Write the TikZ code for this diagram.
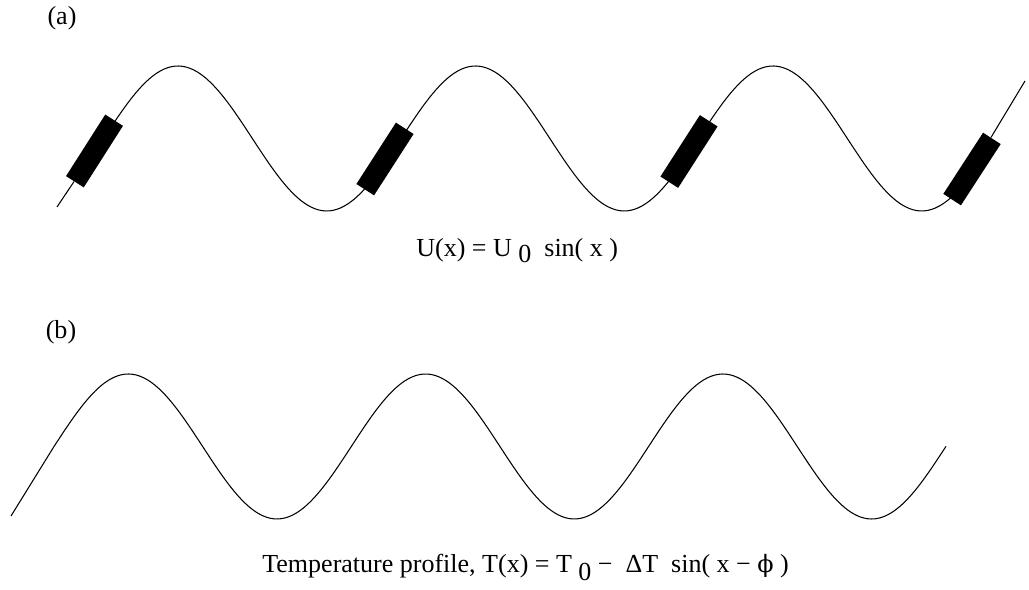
\documentclass[tikz,border=0pt]{standalone}
\usepackage{fontspec}
\setmainfont{Liberation Serif}
\newfontfamily\greekfont[Scale=0.92]{DejaVu Serif}
\usetikzlibrary{positioning}

\begin{document}
\begin{tikzpicture}[
    x=0.02cm, y=-0.02cm,
    every node/.style={font=\fontsize{14.8}{17}\selectfont},
]

% ---------------------------------------------------------------- styles
\tikzset{
    resistor/.style={
        rectangle, minimum width=1.46cm, minimum height=0.42cm,
        inner sep=0pt, fill=black, draw=none,
    },
    wave/.style={line width=0.6pt, black},
    caption/.style={anchor=base west, inner sep=0pt},
    tag/.style={inner sep=0pt},
}

\useasboundingbox (0,0) rectangle (1029,590);

% ================================================================
% GEOMETRY (one unit = one pixel of the 1029 x 590 sheet, y down)
%   row a  sine centred on y = 138.5, amplitude 72.5, period 297.5
%   row b  sine centred on y = 446.5, amplitude 72.5, period 297.3
%   (1.2101 = 360/297.5, 1.2109 = 360/297.3)
% ================================================================

% ---------------------------------------------------------------- row a
\node[tag] (la) at (62, 18.5) {(a)};

\coordinate (astart) at (57, 207);
\coordinate (aend)   at (1025, 81);

\draw[wave] plot[domain=94.5:972, samples=240, smooth]
    (\x, {138.5 - 72.5*sin((\x-103.6)*1.2101)});

\node[resistor, rotate=57.5] (r1) at (94.5, 151) {};
\node[resistor, rotate=57.2] (r2) at (385, 159) {};
\node[resistor, rotate=57.3] (r3) at (689, 151.5) {};
\node[resistor, rotate=57.0] (r4) at (972, 169) {};

\draw[wave] (r1) -- (astart);
\draw[wave] (r4) -- (aend);

\node[caption] (ua) at (416, 257)
    {U(x) = U \raisebox{-0.12cm}{0}\ \ sin(\ x\ )};

% ---------------------------------------------------------------- row b
\node[tag] (lb) at (61, 332) {(b)};

\coordinate (bstart) at (11, 516);
\coordinate (bjoin)  at (54, 446.5);

\draw[wave] (bstart) -- (bjoin);
\draw[wave] plot[domain=54:946, samples=240, smooth]
    (\x, {446.5 - 72.5*sin((\x-54)*1.2109)});

\node[caption] (tb) at (262, 573)
    {Temperature profile, T(x) = T \raisebox{-0.16cm}{0} −\ \ ΔT\ \ sin( x − {\greekfont ϕ} )};

\end{tikzpicture}
\end{document}
